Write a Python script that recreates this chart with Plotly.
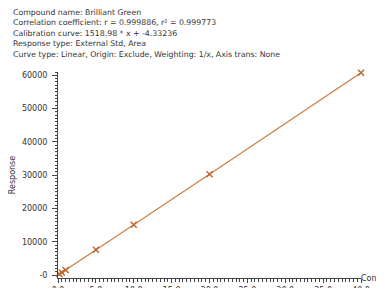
import plotly.graph_objects as go

conc = [0.2, 0.5, 1.0, 5.0, 10.0, 20.0, 40.0]
response = [300, 760, 1500, 7600, 15100, 30300, 60750]

header_lines = [
    "Compound name: Brilliant Green",
    "Correlation coefficient: r = 0.999886, r² = 0.999773",
    "Calibration curve: 1518.98 * x + -4.33236",
    "Response type: External Std, Area",
    "Curve type: Linear, Origin: Exclude, Weighting: 1/x, Axis trans: None",
]
y_tickvals = [0, 10000, 20000, 30000, 40000, 50000, 60000]
y_ticktext = ["-0", "10000", "20000", "30000", "40000", "50000", "60000"]

color = "#CC7A3E"
font = "DejaVu Sans"

fig = go.Figure()
fig.add_trace(go.Scatter(
    x=conc, y=response, mode="lines+markers",
    line=dict(color=color, width=1.1),
    marker=dict(symbol="x-thin", size=6, line=dict(color="#BA682E", width=1.5), color="#BA682E"),
    cliponaxis=False, showlegend=False,
))

annotations = []
for i, t in enumerate(header_lines):
    annotations.append(dict(
        text=t, xref="paper", yref="paper", x=0, y=1, xanchor="left", yanchor="middle",
        showarrow=False, font=dict(family=font, size=7.8, color="#333"),
        xshift=-47, yshift=59.5 - 10.4 * i,
    ))
annotations.append(dict(
    text="Conc", xref="paper", yref="paper", x=1, y=0, xanchor="left", yanchor="middle",
    showarrow=False, font=dict(family=font, size=8, color="#333"), xshift=-2,
))

fig.update_layout(
    width=384, height=288,
    margin=dict(l=50, r=31, t=64, b=18, autoexpand=False),
    paper_bgcolor="white", plot_bgcolor="white",
    font=dict(family=font, size=8, color="#333"),
    annotations=annotations,
    xaxis=dict(
        range=[0, 40], dtick=5, tickformat=".1f", showgrid=False, zeroline=False,
        showline=True, linecolor="#444", linewidth=1, automargin=False,
        ticks="outside", ticklen=4, tickcolor="#444",
        minor=dict(dtick=0.5, ticks="outside", ticklen=2.5, tickcolor="#444"),
        tickfont=dict(family=font, size=8),
    ),
    yaxis=dict(
        range=[-900, 61000], tickvals=y_tickvals, ticktext=y_ticktext,
        showgrid=False, zeroline=False, automargin=False,
        showline=True, linecolor="#444", linewidth=1,
        ticks="outside", ticklen=5, tickcolor="#444", ticklabelstandoff=3,
        minor=dict(dtick=1000, ticks="outside", ticklen=2.5, tickcolor="#444"),
        tickfont=dict(family=font, size=8),
        title=dict(text="Response", font=dict(family=font, size=8), standoff=6),
    ),
)

fig.write_html("out.html")
